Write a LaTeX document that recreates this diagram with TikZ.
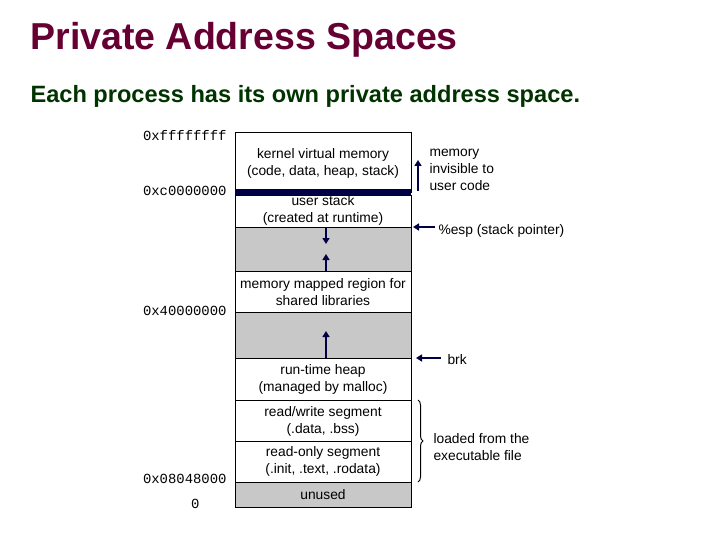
\documentclass[tikz,border=0pt]{standalone}
\usepackage{fontspec}
\setmainfont{Liberation Sans}
\newfontfamily\addrfont{Liberation Mono}
\usetikzlibrary{decorations.pathreplacing,arrows.meta}
\definecolor{titlec}{HTML}{660033}
\definecolor{subc}{HTML}{003300}
\definecolor{navy}{HTML}{000044}
\definecolor{grayfill}{HTML}{C8C8C8}
\tikzset{
  seg/.style={draw=black, line width=0.6pt, fill=white},
  gseg/.style={draw=black, line width=0.6pt, fill=grayfill},
  lbl/.style={font=\fontsize{13.8}{17}\selectfont, align=center},
  addr/.style={font=\addrfont\fontsize{13.9}{15}\selectfont, anchor=east},
  arr/.style={navy, line width=2pt, -{Triangle[length=6pt,width=7pt]}},
}
\begin{document}
\begin{tikzpicture}[x=1pt,y=-1pt]
\useasboundingbox (0,0) rectangle (720,540);
\node[anchor=west, text=titlec, font=\bfseries\fontsize{37.5}{40}\selectfont] (title) at (27,40) {Private Address Spaces};
\node[anchor=west, text=subc, font=\bfseries\fontsize{23.6}{26}\selectfont] (sub) at (27,96) {Each process has its own private address space.};
% segments
\draw[seg] (235,132) rectangle (411,192);
\fill[navy] (235,189) rectangle (411,195);
\draw[seg] (235,195) rectangle (411,227);
\draw[gseg] (235,227) rectangle (411,271);
\draw[seg] (235,271) rectangle (411,312);
\draw[gseg] (235,312) rectangle (411,358);
\draw[seg] (235,358) rectangle (411,400);
\draw[seg] (235,400) rectangle (411,441);
\draw[seg] (235,441) rectangle (411,482);
\draw[gseg] (235,482) rectangle (411,507);
% labels
\node[lbl] (k) at (323,163) {kernel virtual memory\\(code, data, heap, stack)};
\node[lbl] (us) at (323,210) {user stack\\(created at runtime)};
\node[lbl] (mm) at (323,292) {memory mapped region for\\shared libraries};
\node[lbl] (hp) at (323,379) {run-time heap\\(managed by malloc)};
\node[lbl] (rw) at (323,421) {read/write segment\\(.data, .bss)};
\node[lbl] (ro) at (323,461) {read-only segment\\(.init, .text, .rodata)};
\node[lbl] (un) at (323,495) {unused};
% addresses
\node[addr] (a1) at (230,136) {0xffffffff};
\node[addr] (a2) at (230,191) {0xc0000000};
\node[addr] (a3) at (230,311) {0x40000000};
\node[addr] (a4) at (230,479) {0x08048000};
\node[addr] (a5) at (203,504) {0};
% internal arrows
\coordinate (s1) at (326,227); \coordinate (s2) at (326,244);
\coordinate (g1) at (326,271); \coordinate (g2) at (326,254);
\coordinate (h1) at (326,358); \coordinate (h2) at (326,331);
\draw[arr] (s1) -- (s2);
\draw[arr] (g1) -- (g2);
\draw[arr] (h1) -- (h2);
% right side
\coordinate (k1) at (418,191); \coordinate (k2) at (418,160);
\draw[arr] (k1) -- (k2);
\node[lbl, anchor=north west, align=left] (inv) at (426,146) {memory\\invisible to\\user code};
\node[lbl, anchor=west] (esp) at (435,231) {\%esp (stack pointer)};
\coordinate (e2) at (413,227);
\draw[arr] (esp.west) ++(0,-4) coordinate (e1) -- (e2);
\node[lbl, anchor=west] (brk) at (444,360) {brk};
\coordinate (b1) at (441,358); \coordinate (b2) at (416,358);
\draw[arr] (b1) -- (b2);
\draw[line width=1pt, decorate, decoration={brace, amplitude=5pt}] (418,400) -- (418,482);
\node[lbl, anchor=west, align=left] (ld) at (430,447) {loaded from the\\executable file};
\end{tikzpicture}
\end{document}
